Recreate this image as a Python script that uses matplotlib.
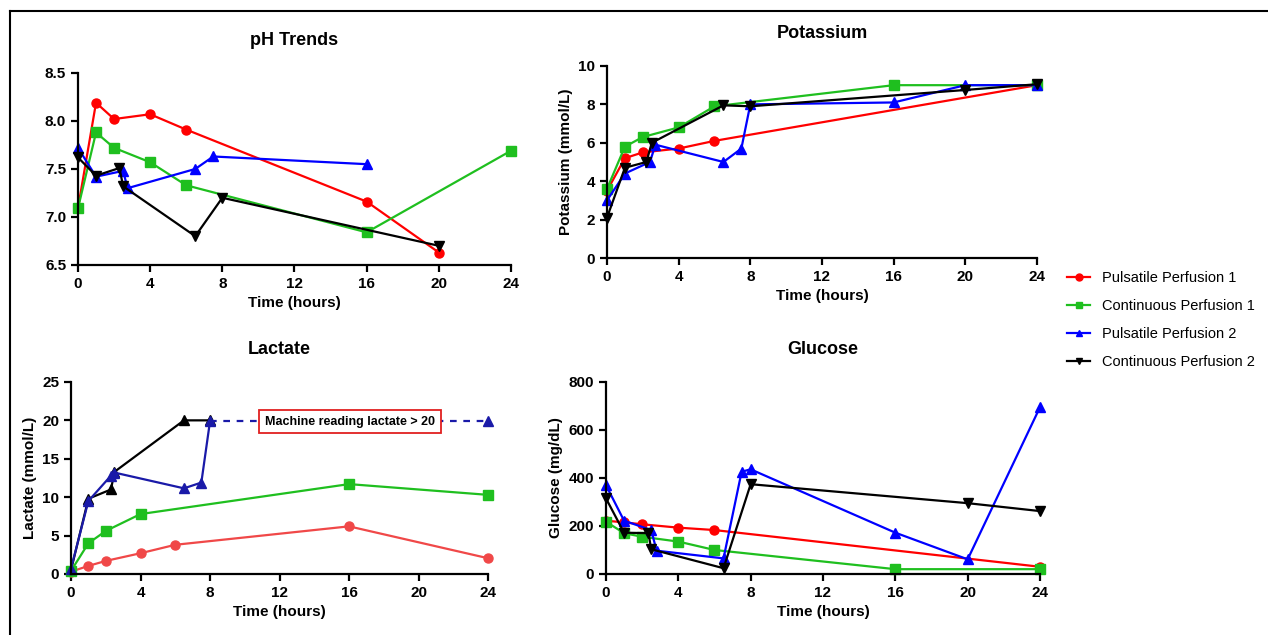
import matplotlib
matplotlib.use('Agg')
import matplotlib.pyplot as plt
from matplotlib.lines import Line2D

plt.rcParams['font.family'] = ['Liberation Sans', 'DejaVu Sans']

# series names and styles
names = ['Pulsatile Perfusion 1', 'Continuous Perfusion 1',
         'Pulsatile Perfusion 2', 'Continuous Perfusion 2']
colors = ['#ff0000', '#1fbf1f', '#0000ff', '#000000']
markers = ['o', 's', '^', 'v']

# pH
ph_t1 = [0, 1, 2, 4, 6, 16, 20]
ph_v1 = [7.09, 8.19, 8.02, 8.07, 7.91, 7.16, 6.63]
ph_t2 = [0, 1, 2, 4, 6, 16, 24]
ph_v2 = [7.09, 7.88, 7.72, 7.57, 7.33, 6.84, 7.69]
ph_t3 = [0, 1, 2.5, 2.75, 6.5, 7.5, 16]
ph_v3 = [7.72, 7.42, 7.48, 7.30, 7.50, 7.63, 7.55]
ph_t4 = [0, 1, 2.3, 2.5, 6.5, 8, 20]
ph_v4 = [7.62, 7.43, 7.51, 7.32, 6.80, 7.20, 6.70]

# Potassium
k_t1 = [0, 1, 2, 4, 6, 24]
k_v1 = [3.5, 5.2, 5.5, 5.7, 6.1, 9.0]
k_t2 = [0, 1, 2, 4, 6, 16, 24]
k_v2 = [3.6, 5.8, 6.3, 6.8, 7.9, 9.0, 9.0]
k_t3 = [0, 1, 2.4, 2.7, 6.5, 7.5, 8, 16, 20, 24]
k_v3 = [3.0, 4.4, 5.0, 5.9, 5.0, 5.7, 8.0, 8.1, 9.0, 9.0]
k_t4 = [0, 1, 2.2, 2.5, 6.5, 8, 20, 24]
k_v4 = [2.1, 4.7, 5.0, 6.0, 7.95, 7.9, 8.75, 9.05]

# Lactate
lac_t1 = [0, 1, 2, 4, 6, 16, 24]
lac_v1 = [0.3, 1.05, 1.7, 2.7, 3.8, 6.2, 2.05]
lac_t2 = [0, 1, 2, 4, 16, 24]
lac_v2 = [0.4, 4.0, 5.6, 7.8, 11.7, 10.3]
lac_t3 = [0, 1, 2.3, 2.5, 6.5, 7.5, 8]
lac_v3 = [0.7, 9.5, 12.8, 13.2, 11.15, 11.9, 19.9]
lac_t3_cap = [8, 24]
lac_v3_cap = [19.9, 19.9]
lac_t4 = [0, 1, 2.3, 2.5, 6.5, 8]
lac_v4 = [0.5, 9.8, 11.0, 13.3, 20.0, 20.0]

# Glucose
glu_t1 = [0, 1, 2, 4, 6, 24]
glu_v1 = [222, 215, 207, 193, 183, 30]
glu_t2 = [0, 1, 2, 4, 6, 16, 24]
glu_v2 = [218, 170, 155, 135, 100, 20, 20]
glu_t3 = [0, 1, 2.5, 2.8, 6.5, 7.5, 8, 16, 20, 24]
glu_v3 = [370, 222, 183, 97, 65, 426, 436, 172, 61, 695]
glu_t4 = [0, 1, 2.35, 2.5, 6.5, 8, 20, 24]
glu_v4 = [315, 172, 170, 103, 24, 374, 295, 262]

x_ticks = [0, 4, 8, 12, 16, 20, 24]

fig = plt.figure(figsize=(12.68, 6.35), dpi=100)

# thin frame around the figure like the source image
fig.add_artist(Line2D([10 / 1268, 10 / 1268], [0, 1 - 11 / 635], color='black', lw=1.5))
fig.add_artist(Line2D([10 / 1268, 1], [1 - 11 / 635, 1 - 11 / 635], color='black', lw=1.5))

ax_ph = fig.add_axes([0.0615, 0.5827, 0.3415, 0.3024])
ax_k = fig.add_axes([0.4787, 0.5937, 0.3391, 0.3024])
ax_lac = fig.add_axes([0.056, 0.0961, 0.3289, 0.3024])
ax_glu = fig.add_axes([0.4779, 0.0961, 0.3423, 0.3024])


def style(ax, title, ylabel, ylim, yticks, fmt):
    ax.set_xlim(0, 24)
    ax.set_ylim(*ylim)
    ax.set_xticks(x_ticks)
    ax.set_yticks(yticks)
    ax.set_yticklabels([fmt.format(v) for v in yticks])
    for s in ['top', 'right']:
        ax.spines[s].set_visible(False)
    for s in ['left', 'bottom']:
        ax.spines[s].set_linewidth(1.6)
    ax.tick_params(direction='out', length=5, width=1.6, labelsize=11)
    for lab in ax.get_xticklabels() + ax.get_yticklabels():
        lab.set_fontweight('bold')
    ax.set_title(title, fontsize=13, fontweight='bold', pad=20)
    ax.set_xlabel('Time (hours)', fontsize=11, fontweight='bold')
    if ylabel:
        ax.set_ylabel(ylabel, fontsize=11, fontweight='bold')


def draw(ax, t, v, i, color=None, marker=None, **kw):
    ax.plot(t, v, color=color or colors[i], marker=marker or markers[i],
            lw=1.6, ms=6.5, clip_on=False, **kw)


for i, (t, v) in enumerate([(ph_t1, ph_v1), (ph_t2, ph_v2), (ph_t3, ph_v3), (ph_t4, ph_v4)]):
    draw(ax_ph, t, v, i)
style(ax_ph, 'pH Trends', None, (6.5, 8.5), [6.5, 7.0, 7.5, 8.0, 8.5], '{:.1f}')

for i, (t, v) in enumerate([(k_t1, k_v1), (k_t2, k_v2), (k_t3, k_v3), (k_t4, k_v4)]):
    draw(ax_k, t, v, i)
style(ax_k, 'Potassium', 'Potassium (mmol/L)', (0, 10), [0, 2, 4, 6, 8, 10], '{:d}')

draw(ax_lac, lac_t4, lac_v4, 3, marker='^')
draw(ax_lac, lac_t1, lac_v1, 0, color='#f04848')
draw(ax_lac, lac_t2, lac_v2, 1)
ax_lac.plot(lac_t3_cap, lac_v3_cap, color='#1a1aa8', lw=1.6, ls=(0, (3, 3)),
            marker='^', ms=6.5, markevery=[1], clip_on=False)
draw(ax_lac, lac_t3, lac_v3, 2, color='#1a1aa8')
ax_lac.text(16.05, 19.85, 'Machine reading lactate > 20', ha='center', va='center',
            fontsize=9, fontweight='bold',
            bbox=dict(boxstyle='square,pad=0.45', fc='white', ec='#e02020', lw=1.3))
style(ax_lac, 'Lactate', 'Lactate (mmol/L)', (0, 25), [0, 5, 10, 15, 20, 25], '{:d}')

for i, (t, v) in enumerate([(glu_t1, glu_v1), (glu_t2, glu_v2), (glu_t3, glu_v3), (glu_t4, glu_v4)]):
    draw(ax_glu, t, v, i)
style(ax_glu, 'Glucose', 'Glucose (mg/dL)', (0, 800), [0, 200, 400, 600, 800], '{:d}')

handles = [Line2D([], [], color=colors[i], marker=markers[i], lw=1.6, ms=5)
           for i in range(4)]
fig.legend(handles, names, loc='center left', bbox_to_anchor=(1054 / 1268, 1 - 320 / 635),
           frameon=False, fontsize=10.5, handlelength=1.6, labelspacing=0.95,
           handletextpad=0.8)

fig.savefig('out.png', dpi=100)
